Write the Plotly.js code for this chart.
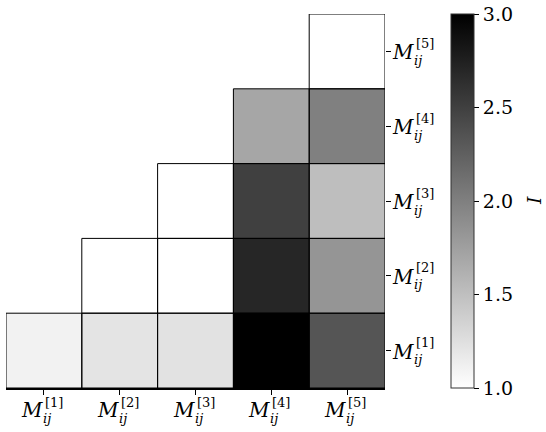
<!DOCTYPE html>
<html>
<head>
<meta charset="utf-8">
<script src="https://cdn.plot.ly/plotly-3.0.1.min.js"></script>
<style>html,body{margin:0;padding:0;background:#fff;}#chart{width:546px;height:432px;}</style>
</head>
<body>
<div id="chart"></div>
<script>
// Categories (matrix labels), 1..5
const categories = ["[1]", "[2]", "[3]", "[4]", "[5]"];
// Rows (bottom to top): values of I for each column; null = empty cell
const row1 = [1.10, 1.21, 1.23, 3.00, 2.33];
const row2 = [null, 1.00, 1.00, 2.70, 1.83];
const row3 = [null, null, 1.00, 2.50, 1.51];
const row4 = [null, null, null, 1.70, 2.00];
const row5 = [null, null, null, null, 1.00];
const colorbarTicks = [1.0, 1.5, 2.0, 2.5, 3.0];
const colorbarLabel = "I";

const z = [row1, row2, row3, row4, row5];
const idx = categories.map((c, i) => i);

const fontFam = "DejaVu Serif";

const trace = {
  type: 'heatmap',
  x: idx, y: idx, z: z,
  zmin: 1, zmax: 3,
  colorscale: [[0, '#ffffff'], [1, '#000000']],
  showscale: true,
  hoverongaps: false,
  colorbar: {
    x: (451 - 6) / 379, xanchor: 'left', xpad: 0, ypad: 0,
    y: 0.5, yanchor: 'middle', len: 1, lenmode: 'fraction',
    thickness: 23, thicknessmode: 'pixels',
    outlinewidth: 1, outlinecolor: '#333',
    ticks: 'outside', ticklen: 5, tickwidth: 1, tickcolor: '#000',
    tickvals: colorbarTicks,
    ticktext: colorbarTicks.map(v => v.toFixed(1)),
    tickfont: {family: fontFam, size: 19, color: '#000'}
  }
};

// cell borders built from the data
const shapes = [];
z.forEach((row, r) => row.forEach((v, c) => {
  if (v !== null) {
    shapes.push({type: 'rect', xref: 'x', yref: 'y', x0: c - 0.5, x1: c + 0.5, y0: r - 0.5, y1: r + 0.5,
      line: {color: '#000', width: 1}, fillcolor: 'rgba(0,0,0,0)', layer: 'above'});
  }
}));

// tick labels M_{ij}^{[k]} as stacked annotations
const annotations = [];
const mFont = {family: fontFam, size: 20, color: '#000'};
const sFont = {family: fontFam, size: 13, color: '#000'};
categories.forEach((lab, k) => {
  // x axis (bottom)
  annotations.push({xref: 'x', yref: 'paper', x: k, y: 0, text: '<i>M</i>', showarrow: false,
    xanchor: 'right', yanchor: 'middle', xshift: 1, yshift: -22, font: mFont});
  annotations.push({xref: 'x', yref: 'paper', x: k, y: 0, text: lab, showarrow: false,
    xanchor: 'left', yanchor: 'middle', xshift: -1, yshift: -14, font: sFont});
  annotations.push({xref: 'x', yref: 'paper', x: k, y: 0, text: '<i>ij</i>', showarrow: false,
    xanchor: 'left', yanchor: 'middle', xshift: -3, yshift: -30, font: sFont});
  // y axis (right)
  annotations.push({xref: 'paper', yref: 'y', x: 1, y: k, text: '<i>M</i>', showarrow: false,
    xanchor: 'right', yanchor: 'middle', xshift: 31, yshift: -1, font: mFont});
  annotations.push({xref: 'paper', yref: 'y', x: 1, y: k, text: lab, showarrow: false,
    xanchor: 'left', yanchor: 'middle', xshift: 29, yshift: 8, font: sFont});
  annotations.push({xref: 'paper', yref: 'y', x: 1, y: k, text: '<i>ij</i>', showarrow: false,
    xanchor: 'left', yanchor: 'middle', xshift: 27, yshift: -9, font: sFont});
});
// colorbar label
annotations.push({xref: 'paper', yref: 'paper', x: (534 - 6) / 379, y: 0.5, text: '<i>' + colorbarLabel + '</i>',
  showarrow: false, textangle: -90, xanchor: 'center', yanchor: 'middle', borderpad: 0,
  font: {family: fontFam, size: 19, color: '#000'}});

const layout = {
  width: 546, height: 432,
  margin: {l: 6, r: 161, t: 14, b: 44, pad: 0},
  paper_bgcolor: '#fff', plot_bgcolor: '#fff',
  font: {family: fontFam, color: '#000'},
  showlegend: false,
  xaxis: {range: [-0.5, 4.5], tickvals: idx, ticktext: idx.map(() => ''), ticks: 'outside', ticklen: 5,
    tickcolor: '#000', tickwidth: 1, showgrid: false, zeroline: false, showline: true, linecolor: '#000', linewidth: 1.5,
    fixedrange: true},
  yaxis: {range: [-0.5, 4.5], side: 'right', tickvals: idx, ticktext: idx.map(() => ''), ticks: 'outside', ticklen: 5,
    tickcolor: '#000', tickwidth: 1, showgrid: false, zeroline: false, showline: false, fixedrange: true},
  shapes: shapes,
  annotations: annotations
};

Plotly.newPlot('chart', [trace], layout, {displayModeBar: false, staticPlot: true});
</script>
</body>
</html>
